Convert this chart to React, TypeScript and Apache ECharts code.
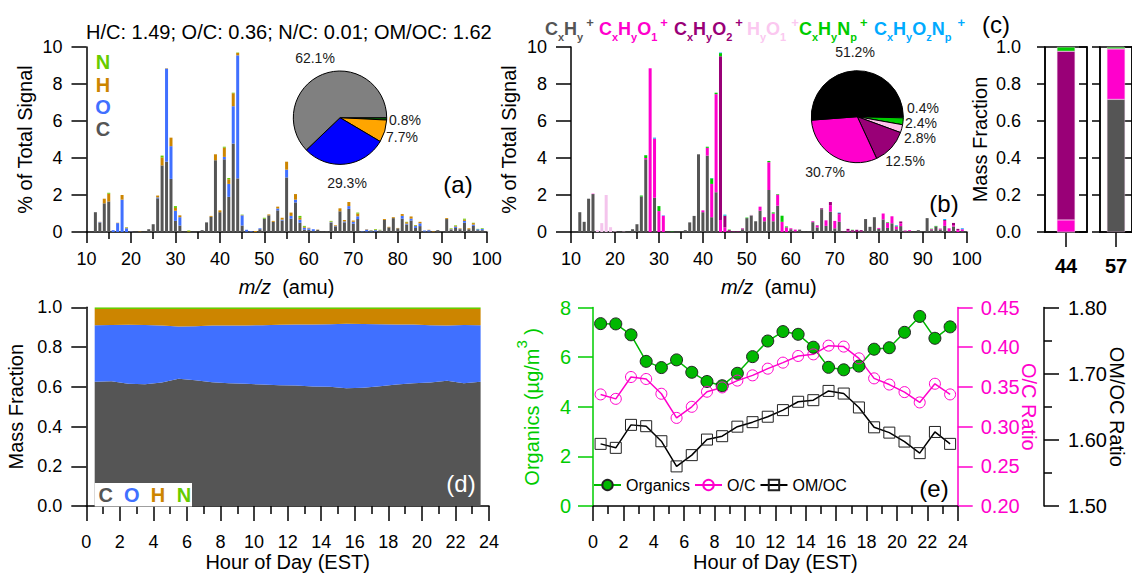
import React, { useEffect, useRef } from 'react';
import * as echarts from 'echarts';

const FONT = '"Liberation Sans", Arial, sans-serif';

const mzValues = [
  12, 13, 14, 15, 16, 17, 18, 19,
  20, 21, 22, 23, 24, 25, 26, 27, 28, 29,
  30, 31, 32, 33, 34, 35, 36, 37, 38, 39,
  40, 41, 42, 43, 44, 45, 46, 47, 48, 49,
  50, 51, 52, 53, 54, 55, 56, 57, 58, 59,
  60, 61, 62, 63, 64, 65, 66, 67, 68, 69,
  70, 71, 72, 73, 74, 75, 76, 77, 78, 79,
  80, 81, 82, 83, 84, 85, 86, 87, 88, 89,
  90, 91, 92, 93, 94, 95, 96, 97, 98, 99, 100,
];

// panel (a): spectrum by element
const elemC = [
  1.07, 0.5, 1.55, 1.65, 0, 0, 0, 0,
  0, 0, 0, 0, 0.15, 0.42, 1.82, 3.6, 3.8, 2.87,
  0.6, 0.35, 0, 0, 0, 0, 0.1, 0.52, 0.82, 3.88,
  1.07, 3.93, 1.9, 4.78, 2.9, 0.35, 0.02, 0.02, 0, 0.15,
  0.72, 0.9, 0.55, 1.17, 0.62, 2.95, 0.72, 1.6, 0.5, 0.13,
  0.12, 0.05, 0.12, 0.02, 0.03, 0.5, 0.3, 1.12, 0.52, 1.25,
  0.45, 0.7, 0.03, 0.03, 0.03, 0.03, 0.05, 0.65, 0.25, 0.75,
  0.2, 0.72, 0.4, 0.62, 0.22, 0.32, 0.03, 0.03, 0, 0.1,
  0.02, 0.7, 0.13, 0.22, 0.15, 0.5, 0.15, 0.33, 0.1, 0.1, 0.02,
];
const elemO = [
  0, 0.03, 0, 0, 0.1, 0.48, 1.75, 0.2,
  0.02, 0, 0, 0, 0, 0, 0.05, 0, 5.03, 1.77,
  0.55, 0.45, 0, 0, 0, 0, 0, 0, 0, 0,
  0, 0.13, 0.7, 2.02, 6.65, 0.55, 0.1, 0.03, 0, 0.05,
  0, 0, 0, 0.1, 0.05, 0.42, 0.15, 0.15, 0.17, 0.1,
  0.08, 0.1, 0, 0, 0, 0.03, 0.02, 0, 0.05, 0.15,
  0.1, 0.15, 0.02, 0.1, 0.05, 0.07, 0.03, 0, 0, 0,
  0, 0.15, 0.05, 0.1, 0.1, 0.15, 0.05, 0.07, 0, 0,
  0, 0, 0.02, 0.07, 0.02, 0.1, 0, 0.07, 0.05, 0.06, 0,
];
const elemH = [
  0, 0.02, 0.25, 0.42, 0, 0.02, 0.25, 0.05,
  0.01, 0, 0.02, 0, 0, 0, 0.1, 0.43, 0.02, 0.46,
  0.15, 0.1, 0, 0.04, 0, 0, 0, 0, 0.05, 0.32,
  0.1, 0.5, 0.25, 0.7, 0.13, 0.02, 0, 0, 0.05, 0,
  0, 0.05, 0.05, 0.1, 0.1, 0.43, 0.18, 0.3, 0.1, 0.05,
  0.03, 0, 0.01, 0, 0, 0.03, 0.04, 0.16, 0.08, 0.22,
  0.07, 0.15, 0, 0.02, 0.02, 0.03, 0.02, 0.05, 0.03, 0.05,
  0.02, 0.1, 0.08, 0.12, 0.04, 0.08, 0, 0.02, 0.03, 0,
  0, 0.05, 0.02, 0.04, 0.03, 0.07, 0.05, 0.08, 0, 0, 0,
];
const elemN = [
  0, 0, 0, 0.05, 0, 0, 0, 0.01,
  0, 0, 0, 0, 0, 0, 0, 0.1, 0, 0,
  0.1, 0, 0, 0.04, 0, 0, 0, 0, 0, 0,
  0, 0.05, 0.07, 0.03, 0.02, 0.02, 0, 0, 0, 0,
  0.05, 0, 0, 0, 0, 0, 0, 0, 0.1, 0.05,
  0, 0, 0, 0, 0, 0.04, 0, 0, 0, 0,
  0, 0.05, 0, 0, 0.01, 0.03, 0.02, 0, 0, 0,
  0, 0, 0.02, 0, 0.02, 0, 0, 0, 0, 0,
  0, 0, 0.03, 0.03, 0, 0.05, 0, 0.02, 0.02, 0.04, 0,
];

// panel (b): spectrum by ion family
const famCH = [
  1.07, 0.55, 1.8, 2.05, 0, 0, 0, 0,
  0, 0, 0, 0, 0.15, 0.42, 1.92, 3.93, 0, 1.85,
  0, 0, 0, 0, 0, 0, 0.1, 0.52, 0.87, 4.2,
  1.07, 4.13, 0.8, 2.15, 0, 0, 0, 0, 0, 0.15,
  0.75, 0.9, 0.58, 1.15, 0.58, 2.27, 0.58, 1.42, 0, 0,
  0.15, 0.03, 0.13, 0.02, 0.02, 0.53, 0.25, 1.23, 0.33, 1.1,
  0.2, 0.55, 0.03, 0.02, 0.02, 0, 0.03, 0.7, 0.28, 0.8,
  0.17, 0.68, 0.22, 0.47, 0.15, 0.32, 0.03, 0.05, 0, 0.1,
  0.02, 0.75, 0.1, 0.3, 0.12, 0.33, 0.03, 0.3, 0, 0.05, 0.02,
];
const famCHO1 = [
  0, 0, 0, 0.02, 0, 0, 0, 0,
  0, 0, 0, 0, 0, 0, 0, 0.07, 8.85, 3.2,
  1.13, 0.88, 0, 0, 0, 0, 0, 0, 0, 0,
  0.1, 0.42, 1.8, 5.3, 0.65, 0.25, 0, 0, 0, 0.03,
  0, 0, 0, 0.22, 0.22, 1.5, 0.42, 0.6, 0.55, 0.25,
  0.05, 0.1, 0, 0, 0, 0.05, 0.08, 0, 0.3, 0.35,
  0.4, 0.4, 0, 0.05, 0.03, 0.02, 0.02, 0, 0, 0,
  0.05, 0.32, 0.28, 0.38, 0.15, 0.15, 0.03, 0.05, 0, 0,
  0, 0, 0.05, 0, 0.03, 0.27, 0.17, 0.07, 0.1, 0.1, 0,
];
const famCHO2 = [
  0, 0, 0, 0, 0, 0, 0, 0,
  0, 0, 0, 0, 0, 0, 0, 0, 0, 0,
  0, 0, 0, 0, 0, 0, 0, 0, 0, 0,
  0, 0, 0, 0, 8.85, 0.62, 0.1, 0.03, 0.03, 0.02,
  0, 0, 0, 0, 0, 0, 0, 0, 0, 0,
  0, 0, 0, 0, 0, 0, 0.03, 0.05, 0, 0.17,
  0, 0.07, 0.02, 0.1, 0.05, 0.1, 0.05, 0, 0, 0,
  0, 0, 0, 0, 0, 0.1, 0.02, 0, 0, 0,
  0, 0, 0, 0, 0.03, 0.05, 0, 0.12, 0.07, 0, 0,
];
const famHO1 = [
  0, 0, 0, 0, 0.1, 0.48, 2.0, 0.26,
  0.03, 0, 0.02, 0, 0, 0, 0, 0, 0, 0,
  0, 0, 0, 0, 0, 0, 0, 0, 0, 0,
  0, 0, 0, 0, 0, 0, 0, 0, 0, 0,
  0, 0.03, 0, 0, 0, 0, 0, 0, 0, 0,
  0, 0, 0, 0, 0, 0, 0, 0, 0, 0,
  0, 0, 0, 0, 0, 0, 0, 0, 0, 0,
  0, 0, 0, 0, 0, 0, 0, 0, 0, 0,
  0, 0, 0, 0, 0, 0, 0, 0, 0, 0, 0,
];
const famCHN = [
  0, 0, 0, 0, 0, 0, 0, 0,
  0, 0, 0, 0, 0, 0, 0.05, 0.15, 0, 0,
  0.27, 0, 0, 0.02, 0, 0, 0, 0, 0, 0,
  0, 0.06, 0.3, 0.08, 0.17, 0.02, 0.03, 0, 0, 0,
  0.03, 0, 0, 0, 0, 0.07, 0.06, 0.03, 0.33, 0.05,
  0, 0, 0, 0, 0, 0, 0, 0, 0, 0,
  0, 0, 0, 0, 0.02, 0, 0, 0, 0, 0,
  0, 0, 0.03, 0, 0.03, 0, 0, 0, 0, 0,
  0, 0, 0.03, 0.03, 0, 0, 0, 0, 0, 0, 0,
];
const famCHON = [
  0, 0, 0, 0, 0, 0, 0, 0,
  0, 0, 0, 0, 0, 0, 0, 0, 0, 0.05,
  0, 0.02, 0, 0, 0, 0, 0, 0, 0, 0,
  0, 0, 0.02, 0, 0.03, 0.05, 0, 0, 0, 0,
  0, 0, 0, 0, 0, 0, 0, 0, 0, 0,
  0, 0, 0, 0, 0, 0, 0, 0, 0, 0,
  0, 0.03, 0, 0, 0, 0, 0, 0, 0, 0,
  0, 0, 0, 0, 0.03, 0, 0, 0, 0, 0,
  0, 0, 0, 0, 0, 0.05, 0, 0, 0, 0.05, 0,
];

// pies, clockwise from east
const pieAValues = [0.8, 7.7, 29.3, 62.1];
const pieAColors = ['#007a00', '#ffa500', '#0000ff', '#808080'];
const pieBValues = [0.4, 2.4, 2.8, 12.5, 30.7, 51.2];
const pieBColors = ['#00aaff', '#00cc00', '#ffc4ec', '#990077', '#ff00cc', '#000000'];

// panel (c): mass fraction per ion family, m/z 44 and 57
const frac44 = { ch: 0, o1: 0.065, o2: 0.912, n: 0.023 };
const frac57 = { ch: 0.717, o1: 0.273, o2: 0, n: 0.01 };

const hours = [
  0.5, 1.5, 2.5, 3.5, 4.5, 5.5, 6.5, 7.5, 8.5, 9.5, 10.5, 11.5,
  12.5, 13.5, 14.5, 15.5, 16.5, 17.5, 18.5, 19.5, 20.5, 21.5, 22.5, 23.5,
];

// panel (d)
const fracC = [0.625, 0.628, 0.615, 0.613, 0.622, 0.64, 0.633, 0.623, 0.618, 0.615, 0.612, 0.608, 0.607, 0.602, 0.6, 0.593, 0.595, 0.603, 0.612, 0.618, 0.622, 0.63, 0.618, 0.625];
const fracO = [0.285, 0.283, 0.297, 0.298, 0.286, 0.263, 0.272, 0.285, 0.291, 0.294, 0.298, 0.304, 0.306, 0.312, 0.315, 0.324, 0.321, 0.312, 0.302, 0.295, 0.288, 0.278, 0.293, 0.285];
const fracH = [0.082, 0.081, 0.08, 0.081, 0.084, 0.089, 0.087, 0.084, 0.083, 0.083, 0.082, 0.08, 0.079, 0.078, 0.077, 0.075, 0.076, 0.077, 0.078, 0.079, 0.082, 0.084, 0.081, 0.082];
const fracN = [0.008, 0.008, 0.008, 0.008, 0.008, 0.008, 0.008, 0.008, 0.008, 0.008, 0.008, 0.008, 0.008, 0.008, 0.008, 0.008, 0.008, 0.008, 0.008, 0.008, 0.008, 0.008, 0.008, 0.008];

// panel (e)
const organics = [7.35, 7.34, 6.9, 5.83, 5.58, 5.89, 5.39, 5.02, 4.85, 5.35, 6.02, 6.65, 7.03, 6.92, 6.4, 5.59, 5.49, 5.64, 6.32, 6.38, 7.0, 7.64, 6.76, 7.22];
const ocRatio = [0.3406, 0.335, 0.3625, 0.36, 0.3414, 0.311, 0.325, 0.344, 0.3494, 0.358, 0.3646, 0.373, 0.3806, 0.389, 0.391, 0.402, 0.4008, 0.386, 0.3608, 0.353, 0.3435, 0.3305, 0.354, 0.3406];
const omocRatio = [1.594, 1.588, 1.6227, 1.6207, 1.598, 1.56, 1.577, 1.6005, 1.6056, 1.62, 1.6268, 1.635, 1.645, 1.6576, 1.66, 1.674, 1.67, 1.649, 1.619, 1.611, 1.5975, 1.58, 1.612, 1.594];

const C_GREY = '#555555';
const C_BLUE = '#4070ff';
const C_ORANGE = '#cc8500';
const C_LIME = '#66cc00';
const MAGENTA = '#ff00cc';
const PURPLE = '#990077';
const LIGHT_PINK = '#f4c4ec';
const GREEN = '#00cc00';
const SKY = '#00aaff';

const tick = (color = '#000') => ({ show: true, length: 15, lineStyle: { color, width: 1.5 } });
const line = (color = '#000') => ({ show: true, onZero: false, lineStyle: { color, width: 1.5 } });
const minor = (color = '#000') => ({ show: true, splitNumber: 2, length: 8, lineStyle: { color, width: 1.5 } });
const nameStyle = { fontFamily: FONT, fontSize: 20, color: '#000' };
const labelStyle = { fontFamily: FONT, fontSize: 18, color: '#000' };

const mzAxis = (gridIndex: number) => ({
  type: 'value', gridIndex, min: 10, max: 100, interval: 10,
  axisLine: line(), axisTick: { ...tick(), length: 11 },
  minorTick: { ...minor(), length: 7 }, splitLine: { show: false }, minorSplitLine: { show: false },
  axisLabel: { ...labelStyle, margin: 18 },
  name: '{i|m/z}{n|  (amu)}', nameLocation: 'middle', nameGap: 45,
  nameTextStyle: {
    ...nameStyle,
    rich: { i: { ...nameStyle, fontStyle: 'italic' }, n: nameStyle },
  },
});

const hourAxis = (gridIndex: number) => ({
  type: 'value', gridIndex, min: 0, max: 24, interval: 2,
  axisLine: line(), axisTick: tick(), minorTick: minor(),
  splitLine: { show: false }, minorSplitLine: { show: false },
  axisLabel: { ...labelStyle, margin: 27 },
  name: 'Hour of Day (EST)', nameLocation: 'middle', nameGap: 45, nameTextStyle: nameStyle,
});

// the visible x axes above only draw ticks; stacked marks need a category axis, so each
// stacked panel also has a hidden one running over the same pixels
const hiddenCategory = (gridIndex: number, data: string[], boundaryGap: boolean) => ({
  type: 'category', gridIndex, data, boundaryGap, show: false,
});

const signalAxis = (gridIndex: number) => ({
  type: 'value', gridIndex, min: 0, max: 10, interval: 2,
  axisLine: line(), axisTick: tick(), splitLine: { show: false },
  axisLabel: { ...labelStyle, margin: 24 },
  name: '% of Total Signal', nameLocation: 'middle', nameGap: 52, nameTextStyle: nameStyle,
});

const fractionAxis = (gridIndex: number, nameGap: number) => ({
  type: 'value', gridIndex, min: 0, max: 1, interval: 0.2,
  axisLine: line(), axisTick: tick(), splitLine: { show: false },
  axisLabel: { ...labelStyle, margin: 24, formatter: (v: number) => v.toFixed(1) },
  name: 'Mass Fraction', nameLocation: 'middle', nameGap, nameTextStyle: nameStyle,
});

const bars = (name: string, vals: number[], color: string, x: number, y: number, stack: string) => ({
  name, type: 'bar', stack, xAxisIndex: x, yAxisIndex: y, barWidth: 3,
  data: vals.map((v, i) => [String(mzValues[i]), v]), itemStyle: { color },
});

const fracBar = (v: number, color: string, x: number, y: number, stack: string) => ({
  type: 'bar', stack, xAxisIndex: x, yAxisIndex: y, barWidth: 18, data: [v],
  itemStyle: { color, borderColor: '#f8c8ee', borderWidth: 0.4 },
});

const area = (name: string, vals: number[], color: string) => ({
  name, type: 'line', stack: 'elem', xAxisIndex: 8, yAxisIndex: 6, symbol: 'none',
  lineStyle: { width: 0 }, areaStyle: { color, opacity: 1 }, data: vals,
});

const text = (s: string, x: number, y: number, font: string, fill = '#000', align = 'center') => ({
  type: 'text', x, y, z: 50,
  style: { text: s, font, fill, align, verticalAlign: 'middle', textAlign: align, textVerticalAlign: 'middle' },
});

const pieLabel = (v: number, x: number, y: number) => text(`${v}%`, x, y, `14px ${FONT}`, '#1a1a1a');
const panelFont = `24px ${FONT}`;
const letterFont = `bold 20px ${FONT}`;

// ion-family formula with sub- and superscripts
const formula = (s: string, x: number, fill: string, plusGap = 3) => ({
  type: 'text', x, y: 16, z: 50,
  style: {
    text: s, fill,
    rich: {
      b: { font: `bold 18px ${FONT}`, fill, lineHeight: 26, verticalAlign: 'middle' },
      d: { font: `bold 11px ${FONT}`, fill, lineHeight: 26, verticalAlign: 'bottom' },
      u: { font: `bold 13px ${FONT}`, fill, lineHeight: 26, verticalAlign: 'top', padding: [0, 0, 0, plusGap] },
    },
  },
});

const App: React.FC = () => {
  const chartRef = useRef<HTMLDivElement>(null);

  useEffect(() => {
    if (!chartRef.current) return;
    document.body.style.margin = '0';
    const chart = echarts.init(chartRef.current, undefined, { renderer: 'svg' });

    const mzCategories = ['10', '11', ...mzValues.map(String)];
    const hourCategories = hours.map(String);

    chart.setOption({
      animation: false,
      textStyle: { fontFamily: FONT },
      title: {
        text: 'H/C: 1.49; O/C: 0.36; N/C: 0.01; OM/OC: 1.62', left: 86, top: 22, padding: 0,
        textStyle: { fontFamily: FONT, fontSize: 20, fontWeight: 'normal', color: '#000' },
      },
      legend: {
        data: ['Organics', 'O/C', 'OM/OC'], left: 593, top: 477, padding: 0,
        itemWidth: 27, itemHeight: 13, itemGap: 4,
        textStyle: { fontFamily: FONT, fontSize: 16, color: '#000' },
      },
      grid: [
        { left: 86.5, top: 47, width: 400.2, height: 185 },
        { left: 571, top: 47, width: 395.7, height: 185 },
        { left: 1045, top: 47, width: 42, height: 185, show: true, borderColor: '#000', borderWidth: 1.5, backgroundColor: 'transparent' },
        { left: 1100, top: 47, width: 38, height: 185, show: true, borderColor: '#000', borderWidth: 1.5, backgroundColor: 'transparent' },
        { left: 86.3, top: 307.3, width: 402.7, height: 199.7 },
        { left: 593, top: 307.5, width: 364.7, height: 199 },
      ],
      xAxis: [
        mzAxis(0),
        mzAxis(1),
        {
          type: 'category', gridIndex: 2, data: ['44'], axisLine: line(),
          axisTick: { ...tick(), alignWithLabel: true },
          axisLabel: { ...labelStyle, fontSize: 20, fontWeight: 'bold', margin: 24 },
        },
        {
          type: 'category', gridIndex: 3, data: ['57'], axisLine: line(),
          axisTick: { ...tick(), alignWithLabel: true },
          axisLabel: { ...labelStyle, fontSize: 20, fontWeight: 'bold', margin: 24 },
        },
        hourAxis(4),
        hourAxis(5),
        hiddenCategory(0, mzCategories, false),
        hiddenCategory(1, mzCategories, false),
        hiddenCategory(4, hourCategories, true),
      ],
      yAxis: [
        signalAxis(0),
        signalAxis(1),
        { ...fractionAxis(2, 55), axisTick: { ...tick(), length: 8 } },
        { ...fractionAxis(2, 55), name: '', axisLabel: { show: false }, axisTick: { ...tick(), length: 8, inside: true } },
        { ...fractionAxis(3, 55), name: '', axisLabel: { show: false }, axisTick: { ...tick(), length: 8 } },
        { ...fractionAxis(3, 55), name: '', axisLabel: { show: false }, axisTick: { ...tick(), length: 8, inside: true } },
        fractionAxis(4, 60),
        {
          type: 'value', gridIndex: 5, position: 'left', min: 0, max: 8, interval: 2,
          axisLine: line(GREEN), axisTick: tick(GREEN), splitLine: { show: false },
          axisLabel: { ...labelStyle, color: GREEN, fontSize: 20, margin: 22 },
          name: '{n|Organics (µg/m}{s|3}{n| )}', nameLocation: 'middle', nameGap: 51,
          nameTextStyle: {
            ...nameStyle, color: GREEN,
            rich: {
              n: { ...nameStyle, color: GREEN, lineHeight: 28, verticalAlign: 'bottom' },
              s: { fontFamily: FONT, fontSize: 15, color: GREEN, lineHeight: 28, verticalAlign: 'top' },
            },
          },
        },
        {
          type: 'value', gridIndex: 5, position: 'right', min: 0.2, max: 0.45, interval: 0.05,
          axisLine: line(MAGENTA), axisTick: tick(MAGENTA), splitLine: { show: false },
          axisLabel: { ...labelStyle, color: MAGENTA, margin: 23, fontSize: 20, formatter: (v: number) => v.toFixed(2) },
          name: 'O/C Ratio', nameLocation: 'middle', nameRotate: -90, nameGap: 61, nameMoveOverlap: false,
          nameTextStyle: { ...nameStyle, color: MAGENTA },
        },
        {
          type: 'value', gridIndex: 5, position: 'right', offset: 86.3, min: 1.5, max: 1.8, interval: 0.1,
          axisLine: line(), axisTick: tick(), minorTick: minor(), splitLine: { show: false }, minorSplitLine: { show: false },
          axisLabel: { ...labelStyle, margin: 24, fontSize: 20, formatter: (v: number) => v.toFixed(2) },
          name: 'OM/OC Ratio', nameLocation: 'middle', nameRotate: -90, nameGap: 63, nameMoveOverlap: false, nameTextStyle: nameStyle,
        },
      ],
      series: [
        bars('C', elemC, C_GREY, 6, 0, 'a'),
        bars('O', elemO, C_BLUE, 6, 0, 'a'),
        bars('H', elemH, C_ORANGE, 6, 0, 'a'),
        bars('N', elemN, C_LIME, 6, 0, 'a'),

        bars('CxHy', famCH, C_GREY, 7, 1, 'b'),
        bars('CxHyO1', famCHO1, MAGENTA, 7, 1, 'b'),
        bars('CxHyO2', famCHO2, PURPLE, 7, 1, 'b'),
        bars('HyO1', famHO1, LIGHT_PINK, 7, 1, 'b'),
        bars('CxHyNp', famCHN, GREEN, 7, 1, 'b'),
        bars('CxHyOzNp', famCHON, SKY, 7, 1, 'b'),

        {
          type: 'pie', center: [340, 117.7], radius: [0, 46.7], startAngle: 0, z: 10, silent: true,
          label: { show: false }, labelLine: { show: false },
          itemStyle: { borderColor: '#000', borderWidth: 1 },
          data: pieAValues.map((value, i) => ({ value, itemStyle: { color: pieAColors[i] } })),
        },
        {
          type: 'pie', center: [857.3, 116.7], radius: [0, 46], startAngle: 0, z: 10, silent: true,
          label: { show: false }, labelLine: { show: false },
          itemStyle: { borderColor: '#000', borderWidth: 1 },
          data: pieBValues.map((value, i) => ({ value, itemStyle: { color: pieBColors[i] } })),
        },

        fracBar(frac44.ch, C_GREY, 2, 2, 'c1'),
        fracBar(frac44.o1, MAGENTA, 2, 2, 'c1'),
        fracBar(frac44.o2, PURPLE, 2, 2, 'c1'),
        fracBar(frac44.n, GREEN, 2, 2, 'c1'),
        fracBar(frac57.ch, C_GREY, 3, 4, 'c2'),
        fracBar(frac57.o1, MAGENTA, 3, 4, 'c2'),
        fracBar(frac57.o2, PURPLE, 3, 4, 'c2'),
        fracBar(frac57.n, GREEN, 3, 4, 'c2'),

        area('C', fracC, C_GREY),
        area('O', fracO, C_BLUE),
        area('H', fracH, C_ORANGE),
        area('N', fracN, C_LIME),

        {
          name: 'Organics', type: 'line', xAxisIndex: 5, yAxisIndex: 7, symbol: 'circle', symbolSize: 12,
          lineStyle: { color: '#00b800', width: 1.5 }, itemStyle: { color: '#00b800', borderColor: '#222', borderWidth: 1 },
          data: organics.map((v, i) => [hours[i], v]),
        },
        {
          name: 'O/C', type: 'line', xAxisIndex: 5, yAxisIndex: 8, symbol: 'circle', symbolSize: 11,
          lineStyle: { color: MAGENTA, width: 1.5 }, itemStyle: { color: 'rgba(255,255,255,0)', borderColor: MAGENTA, borderWidth: 1 },
          data: ocRatio.map((v, i) => [hours[i], v]),
        },
        {
          name: 'OM/OC', type: 'line', xAxisIndex: 5, yAxisIndex: 9, symbol: 'rect', symbolSize: 11,
          lineStyle: { color: '#000', width: 1.5 }, itemStyle: { color: 'rgba(255,255,255,0)', borderColor: '#222', borderWidth: 1 },
          data: omocRatio.map((v, i) => [hours[i], v]),
        },
      ],
      graphic: [
        text('N', 103, 62, letterFont, C_LIME),
        text('H', 103, 85, letterFont, C_ORANGE),
        text('O', 103, 107, letterFont, C_BLUE),
        text('C', 103, 129, letterFont, C_GREY),

        pieLabel(pieAValues[3], 315, 58),
        pieLabel(pieAValues[0], 405, 120),
        pieLabel(pieAValues[1], 402, 137),
        pieLabel(pieAValues[2], 347, 183),
        pieLabel(pieBValues[5], 855, 52),
        pieLabel(pieBValues[0], 923, 108),
        pieLabel(pieBValues[1], 921, 123),
        pieLabel(pieBValues[2], 920, 138),
        pieLabel(pieBValues[3], 905, 161),
        pieLabel(pieBValues[4], 825, 172),

        text('(a)', 458, 184, panelFont),
        text('(b)', 944, 203, panelFont),
        text('(c)', 996, 24, panelFont),
        text('(d)', 461, 483, panelFont, '#fff'),
        text('(e)', 934, 488, panelFont),

        formula('{b|C}{d|x}{b|H}{d|y}{u|+}', 545, C_GREY),
        formula('{b|C}{d|x}{b|H}{d|y}{b|O}{d|1}{u|+}', 599, MAGENTA),
        formula('{b|C}{d|x}{b|H}{d|y}{b|O}{d|2}{u|+}', 674, PURPLE),
        formula('{b|H}{d|y}{b|O}{d|1}{u|+}', 747, '#fbc8f0', 5),
        formula('{b|C}{d|x}{b|H}{d|y}{b|N}{d|p}{u|+}', 799, GREEN),
        formula('{b|C}{d|x}{b|H}{d|y}{b|O}{d|z}{b|N}{d|p}{u|+}', 874, SKY, 6),

        { type: 'rect', z: 40, shape: { x: 94.7, y: 483, width: 97.3, height: 23.4 }, style: { fill: '#fff' } },
        text('C', 105.6, 494.5, letterFont, C_GREY),
        text('O', 131.7, 494.5, letterFont, C_BLUE),
        text('H', 158, 494.5, letterFont, C_ORANGE),
        text('N', 184, 494.5, letterFont, C_LIME),
      ],
    });

    return () => {
      chart.dispose();
    };
  }, []);

  return <div ref={chartRef} style={{ width: 1132, height: 573, overflow: 'hidden' }} />;
};

export default App;
